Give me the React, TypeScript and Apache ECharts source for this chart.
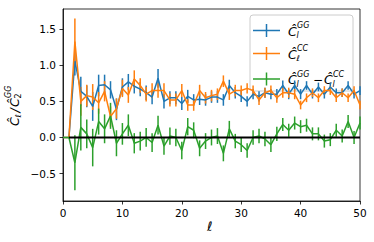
import React, { useEffect, useRef } from "react";
import * as echarts from "echarts";

const ells = [0,1,2,3,4,5,6,7,8,9,10,11,12,13,14,15,16,17,18,19,20,21,22,23,24,25,26,27,28,29,30,31,32,33,34,35,36,37,38,39,40,41,42,43,44,45,46,47,48,49,50];

const cGG = [0,0,1.06,0.64,0.57,0.43,0.72,0.73,0.66,0.39,0.7,0.77,0.71,0.67,0.62,0.56,0.82,0.5,0.55,0.55,0.47,0.57,0.52,0.53,0.52,0.56,0.56,0.52,0.72,0.62,0.57,0.5,0.6,0.57,0.62,0.6,0.6,0.72,0.6,0.72,0.6,0.72,0.6,0.7,0.6,0.7,0.62,0.62,0.72,0.6,0.65];
const errGG = [0,0,0.2,0.2,0.15,0.2,0.15,0.14,0.12,0.15,0.12,0.11,0.1,0.1,0.1,0.1,0.13,0.1,0.09,0.09,0.09,0.09,0.08,0.08,0.08,0.08,0.08,0.08,0.08,0.08,0.08,0.07,0.07,0.07,0.07,0.07,0.07,0.07,0.07,0.07,0.07,0.06,0.06,0.06,0.06,0.06,0.06,0.06,0.06,0.06,0.06];

const cCC = [0,0,1.33,0.5,0.58,0.56,0.48,0.64,0.29,0.4,0.68,0.59,0.81,0.72,0.6,0.65,0.65,0.65,0.52,0.52,0.65,0.45,0.45,0.65,0.55,0.58,0.6,0.78,0.6,0.65,0.65,0.68,0.65,0.52,0.62,0.65,0.55,0.62,0.62,0.6,0.45,0.55,0.62,0.55,0.65,0.65,0.55,0.62,0.55,0.65,0.45];
const errCC = [0,0,0.32,0.2,0.15,0.18,0.15,0.14,0.14,0.14,0.12,0.11,0.12,0.1,0.1,0.1,0.1,0.1,0.09,0.09,0.09,0.08,0.08,0.08,0.08,0.08,0.08,0.08,0.08,0.08,0.07,0.07,0.07,0.07,0.07,0.07,0.07,0.07,0.07,0.07,0.06,0.06,0.06,0.06,0.06,0.06,0.06,0.06,0.06,0.06,0.06];

const cDiff = [0,0,-0.35,0.14,0.05,-0.14,0.22,0.12,0.3,-0.08,0.05,0.17,-0.08,-0.05,0.0,-0.07,0.17,-0.12,0.02,0.0,-0.18,0.15,0.1,-0.15,-0.05,0.0,0.02,-0.22,0.12,-0.05,-0.1,-0.18,0.0,0.02,-0.02,-0.1,0.05,0.18,0.1,0.2,0.15,0.17,0.05,0.05,-0.05,-0.03,0.1,0.02,0.22,0.0,0.2];
const errDiff = [0,0,0.38,0.32,0.2,0.26,0.18,0.2,0.18,0.18,0.15,0.15,0.14,0.13,0.13,0.13,0.13,0.12,0.12,0.12,0.12,0.12,0.11,0.11,0.11,0.11,0.11,0.11,0.11,0.1,0.1,0.1,0.1,0.1,0.1,0.1,0.1,0.09,0.09,0.09,0.09,0.09,0.09,0.09,0.09,0.09,0.09,0.09,0.09,0.09,0.09];

const yTicks = [-0.5, 0, 0.5, 1.0, 1.5];
const xTicks = [0, 10, 20, 30, 40, 50];

const BLUE = "#1f77b4";
const ORANGE = "#ff7f0e";
const GREEN = "#2ca02c";
const FONT = "DejaVu Sans";

function errSeries(vals: number[], errs: number[], color: string) {
  return {
    type: "custom",
    silent: true,
    data: ells.map((l, i) => [l, vals[i], errs[i]]),
    renderItem: (params: any, api: any) => {
      const x = api.value(0);
      const y = api.value(1);
      const e = api.value(2);
      const p1 = api.coord([x, y - e]);
      const p2 = api.coord([x, y + e]);
      return {
        type: "line",
        shape: { x1: p1[0], y1: p1[1], x2: p2[0], y2: p2[1] },
        style: { stroke: color, lineWidth: 1.5 },
      };
    },
  };
}

function lineSeries(vals: number[], color: string) {
  return {
    type: "line",
    data: ells.map((l, i) => [l, vals[i]]),
    symbol: "none",
    lineStyle: { color, width: 1.5 },
    silent: true,
  };
}

function txt(x: number, y: number, text: string, size: number, italic = true) {
  return {
    type: "text",
    x,
    y,
    style: {
      text,
      fill: "#000",
      font: `${italic ? "italic " : ""}${size}px "${FONT}"`,
      textVerticalAlign: "middle",
      textAlign: "left",
    },
  };
}

function mathC(x: number, y: number, sup: string, sub: string) {
  return [
    txt(x, y, "Ĉ", 12.5),
    txt(x + 9, y - 5.5, sup, 8),
    txt(x + 8.5, y + 4.5, sub, 8),
  ];
}

function handle(x: number, y: number, color: string) {
  return [
    { type: "line", shape: { x1: x, y1: y, x2: x + 27, y2: y }, style: { stroke: color, lineWidth: 1.5 } },
    { type: "line", shape: { x1: x + 13.5, y1: y - 6.5, x2: x + 13.5, y2: y + 6.5 }, style: { stroke: color, lineWidth: 1.5 } },
  ];
}

export default function App() {
  const ref = useRef<HTMLDivElement>(null);
  useEffect(() => {
    if (!ref.current) return;
    const chart = echarts.init(ref.current, undefined, { renderer: "svg" });
    const legendChildren: any[] = [
      {
        type: "rect",
        shape: { x: 250, y: 15, width: 103, height: 76, r: 3 },
        style: { fill: "rgba(255,255,255,0.8)", stroke: "#cccccc", lineWidth: 1 },
      },
      ...handle(253, 30.5, BLUE),
      ...mathC(288, 31, "GG", "l"),
      ...handle(253, 53.5, ORANGE),
      ...mathC(288, 54, "CC", "ℓ"),
      ...handle(253, 79, GREEN),
      ...mathC(288, 79.5, "GG", "l"),
      txt(313, 79.5, "−", 12, false),
      ...mathC(324, 79.5, "CC", "l"),
    ];
    const ylabel = {
      type: "group",
      x: 14,
      y: 126,
      rotation: Math.PI / 2,
      children: [
        txt(0, 0, "Ĉ", 12.5),
        txt(8.5, 4.5, "ℓ", 8),
        txt(13.5, 0, "/", 12.5),
        txt(19, 0, "Ĉ", 12.5),
        txt(28, -5.5, "GG", 8),
        txt(27.5, 4.5, "2", 8, false),
      ],
    };
    chart.setOption({
      animation: false,
      backgroundColor: "#fff",
      grid: {
        left: 63,
        right: 14,
        top: 9,
        bottom: 41,
        show: true,
        borderColor: "#000",
        borderWidth: 0.8,
        backgroundColor: "transparent",
      },
      xAxis: {
        type: "value",
        min: 0,
        max: 50,
        interval: 10,
        splitLine: { show: false },
        axisLine: { show: true, onZero: false, lineStyle: { color: "#000", width: 0.8 } },
        axisTick: { show: true, length: 3.5, lineStyle: { color: "#000", width: 0.8 }, customValues: xTicks },
        axisLabel: { color: "#000", fontFamily: FONT, fontSize: 10.5, margin: 6, customValues: xTicks },
      },
      yAxis: {
        type: "value",
        min: -0.88,
        max: 1.78,
        splitLine: { show: false },
        axisLine: { show: true, onZero: false, lineStyle: { color: "#000", width: 0.8 } },
        axisTick: { show: true, length: 3.5, lineStyle: { color: "#000", width: 0.8 }, customValues: yTicks },
        axisLabel: {
          color: "#000",
          fontFamily: FONT,
          fontSize: 10.5,
          margin: 7,
          customValues: yTicks,
          formatter: (v: number) => (v < 0 ? "−" : "") + Math.abs(v).toFixed(1),
        },
      },
      series: [
        errSeries(cGG, errGG, BLUE),
        lineSeries(cGG, BLUE),
        errSeries(cCC, errCC, ORANGE),
        lineSeries(cCC, ORANGE),
        errSeries(cDiff, errDiff, GREEN),
        lineSeries(cDiff, GREEN),
        {
          type: "line",
          data: ells.slice(1).map((l) => [l, 0]),
          symbol: "none",
          lineStyle: { color: "#000", width: 2 },
          silent: true,
        },
      ],
      graphic: [
        { type: "group", z: 100, children: legendChildren },
        ylabel,
        txt(207, 226, "ℓ", 13),
      ],
    });
    return () => chart.dispose();
  }, []);
  return (
    <div
      ref={ref}
      style={{ position: "absolute", left: 0, top: 0, width: 374, height: 242 }}
    />
  );
}
